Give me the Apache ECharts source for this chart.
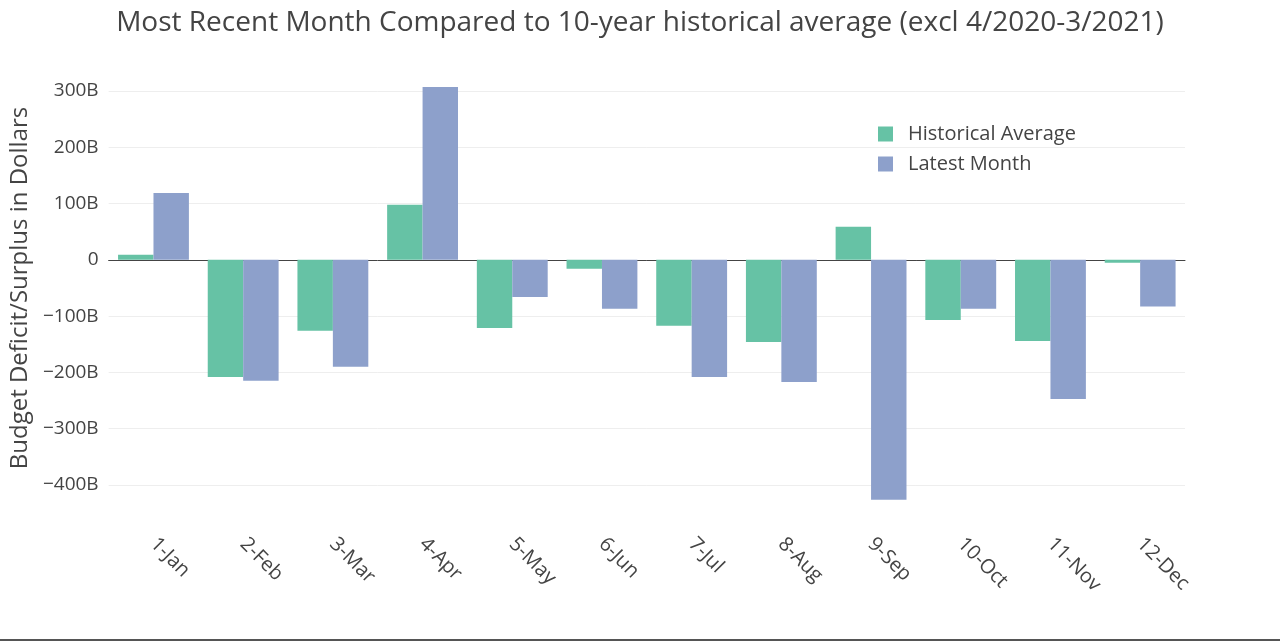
<!DOCTYPE html>
<html><head><meta charset="utf-8">
<script src="https://cdn.jsdelivr.net/npm/echarts@6/dist/echarts.min.js"></script>
<style>html,body{margin:0;padding:0;background:#fff}#c{width:1280px;height:641px}</style>
</head><body><div id="c"></div>
<script>
const categories = ['1-Jan','2-Feb','3-Mar','4-Apr','5-May','6-Jun','7-Jul','8-Aug','9-Sep','10-Oct','11-Nov','12-Dec'];
const historicalAverage = [9, -208, -126, 98, -121, -16, -117, -146, 59, -107, -144, -5];
const latestMonth = [119, -215, -190, 307, -66, -87, -208, -217, -426, -87, -247, -83];
const yTicks = [-400, -300, -200, -100, 0, 100, 200, 300];

const chart = echarts.init(document.getElementById('c'));
const font = '"Open Sans", "Noto Sans", sans-serif';
chart.setOption({
  animation: false,
  backgroundColor: '#fff',
  textStyle: { fontFamily: font },
  title: {
    text: 'Most Recent Month Compared to 10-year historical average (excl 4/2020-3/2021)',
    left: 'center', top: 4,
    textStyle: { fontFamily: font, fontSize: 28, fontWeight: 'normal', color: '#444' }
  },
  legend: {
    orient: 'vertical', left: 873, top: 119,
    itemWidth: 15, itemHeight: 15, itemGap: 10,
    icon: 'rect',
    textStyle: { fontFamily: font, fontSize: 20, color: '#444', padding: [0, 0, 0, 10] },
    data: ['Historical Average', 'Latest Month']
  },
  grid: { left: 108, right: 95, top: 91, bottom: 156 },
  xAxis: {
    type: 'category', data: categories,
    axisLine: { onZero: true, lineStyle: { color: '#444', width: 1 } },
    axisTick: { show: false },
    axisLabel: { rotate: -45, fontSize: 20, color: '#444', margin: 56, fontFamily: font }
  },
  yAxis: {
    type: 'value', min: yTicks[0], max: yTicks[yTicks.length - 1], interval: 100,
    name: 'Budget Deficit/Surplus in Dollars', nameLocation: 'middle', nameGap: 76,
    nameTextStyle: { fontSize: 24, color: '#444', fontFamily: font },
    axisLine: { show: false }, axisTick: { show: false },
    splitLine: { lineStyle: { color: '#eee', width: 1 } },
    axisLabel: {
      fontSize: 19, color: '#444', margin: 10, fontFamily: font,
      formatter: v => v === 0 ? '0' : (v < 0 ? '\u2212' + Math.abs(v) : v) + 'B'
    }
  },
  series: [
    { name: 'Historical Average', type: 'bar', data: historicalAverage, clip: false,
      itemStyle: { color: '#66c2a5' }, barGap: '0%', barCategoryGap: '21%' },
    { name: 'Latest Month', type: 'bar', data: latestMonth, clip: false,
      itemStyle: { color: '#8da0cb' }, barGap: '0%', barCategoryGap: '21%' }
  ],
  graphic: [{ type: 'rect', left: 0, top: 639, shape: { width: 1280, height: 2 }, style: { fill: '#555' } }]
});
</script></body></html>
